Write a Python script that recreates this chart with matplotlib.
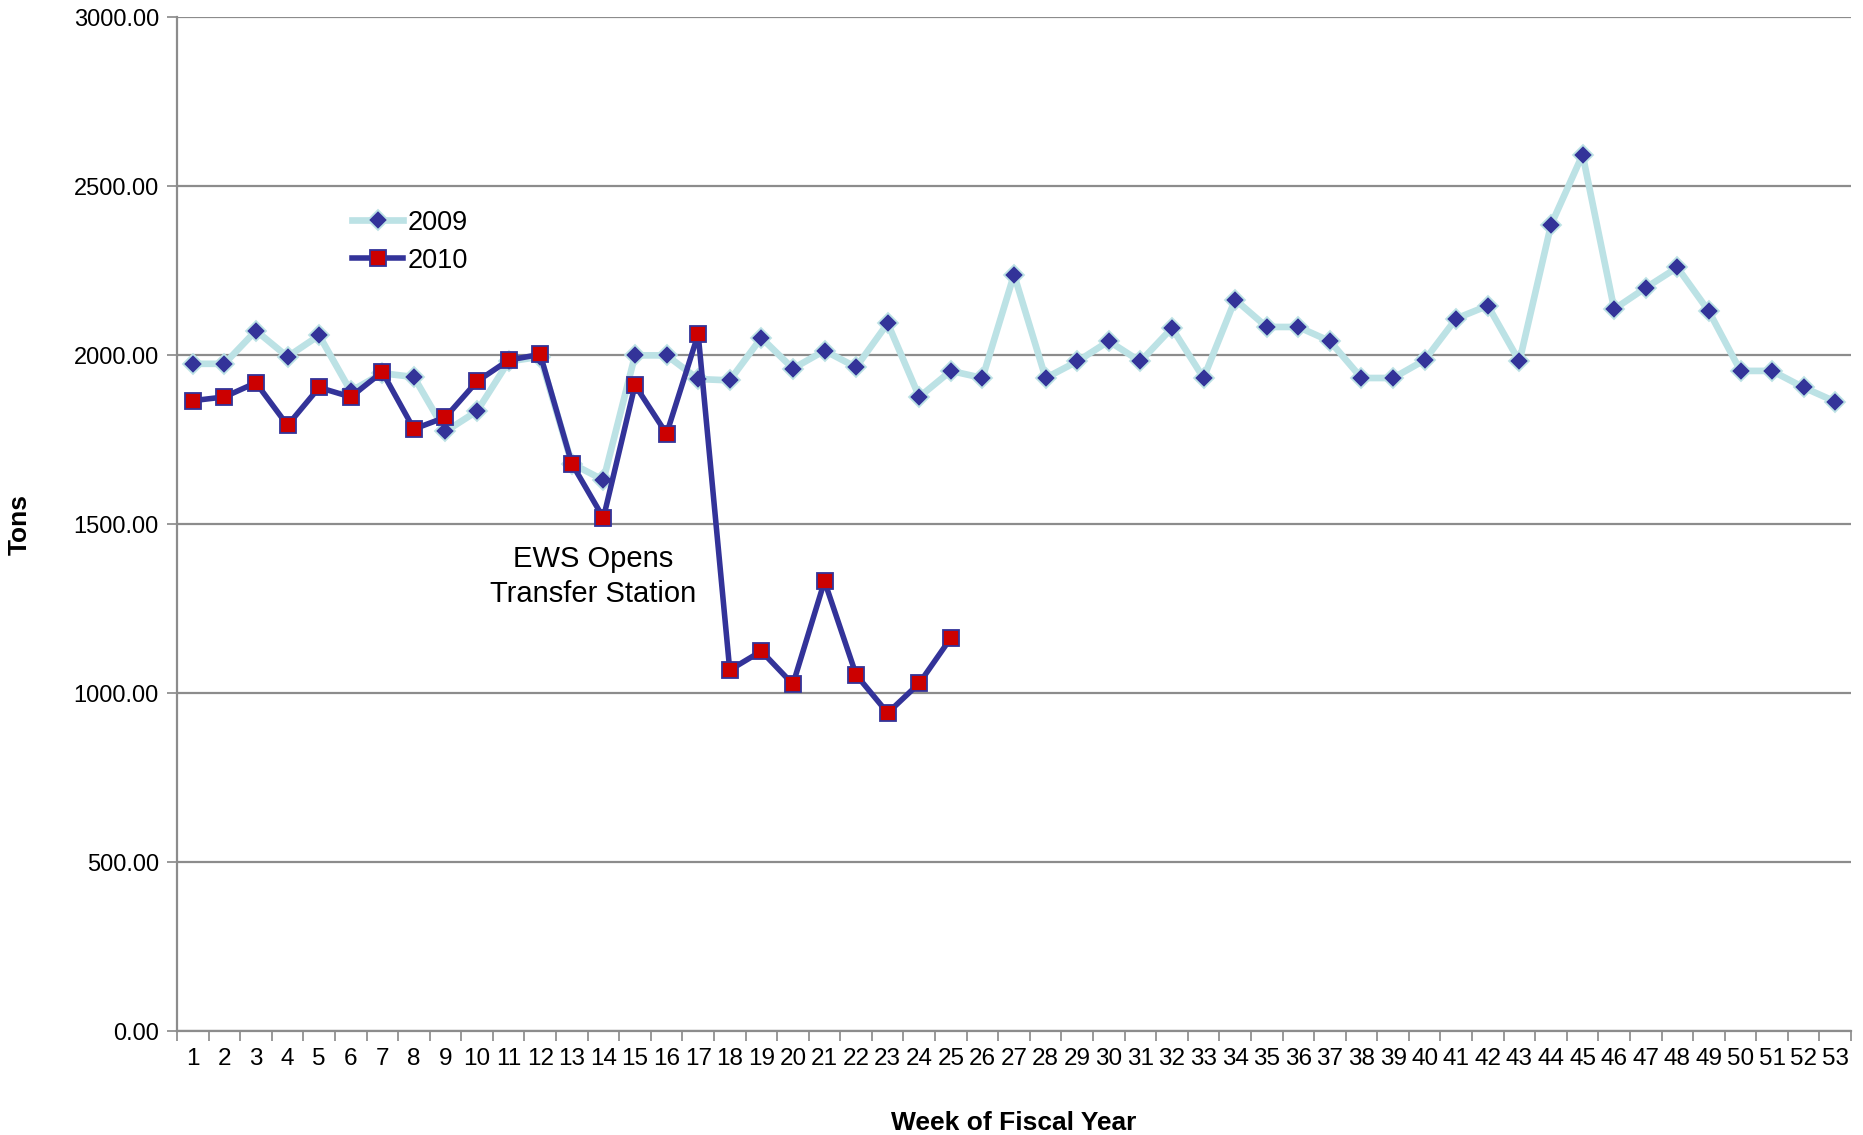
import matplotlib.pyplot as plt
import numpy as np

# tons per week of fiscal year
weeks = list(range(1, 54))
tons_2009 = [1974, 1974, 2072, 1995, 2058, 1893, 1946, 1935, 1774, 1834,
             1981, 1995, 1679, 1630, 1999, 1999, 1929, 1925, 2051, 1960,
             2013, 1964, 2094, 1876, 1953, 1932, 2238, 1932, 1981, 2041,
             1981, 2080, 1932, 2164, 2083, 2083, 2041, 1932, 1932, 1985,
             2108, 2146, 1981, 2385, 2593, 2136, 2199, 2259, 2129, 1953,
             1953, 1904, 1862]
tons_2010 = [1865, 1876, 1918, 1792, 1904, 1876, 1950, 1781, 1816, 1922,
             1985, 2002, 1679, 1518, 1911, 1767, 2062, 1068, 1124, 1026,
             1331, 1054, 941, 1029, 1163]
y_ticks = [0, 500, 1000, 1500, 2000, 2500, 3000]

plt.rcParams['font.family'] = ['Liberation Sans', 'DejaVu Sans']

fig = plt.figure(figsize=(18.63, 11.35), dpi=100)
ax = fig.add_axes([0.095, 0.0916, 0.8986, 0.8934])

ax.plot(weeks, tons_2009, color='#BCE2E5', linewidth=4.8, marker='D',
        markersize=10.5, markerfacecolor='#333399', markeredgecolor='#BCE2E5',
        markeredgewidth=1.3, label='2009', zorder=3)
ax.plot(weeks[:len(tons_2010)], tons_2010, color='#333399', linewidth=4.0,
        marker='s', markersize=11, markerfacecolor='#CC0000',
        markeredgecolor='#333399', markeredgewidth=1.3, label='2010', zorder=4)

ax.set_xlim(0.5, 53.5)
ax.set_ylim(0, 3000)
ax.set_yticks(y_ticks)
ax.set_yticklabels([f'{v:.2f}' for v in y_ticks], fontsize=17)
ax.set_xticks(weeks)
ax.set_xticklabels([str(w) for w in weeks], fontsize=17.5)
ax.set_xticks(np.arange(0.5, 54, 1), minor=True)
ax.tick_params(axis='x', which='major', length=0, pad=12)
ax.tick_params(axis='x', which='minor', length=7, color='#888888', width=1.2)
ax.tick_params(axis='y', length=7, color='#888888', width=1.2, pad=6)

ax.grid(axis='y', color='#8C8C8C', linewidth=1.6)
ax.set_axisbelow(True)
for side in ['top', 'right']:
    ax.spines[side].set_visible(False)
for side in ['left', 'bottom']:
    ax.spines[side].set_color('#8C8C8C')
    ax.spines[side].set_linewidth(1.6)

ax.set_ylabel('Tons', fontsize=19, fontweight='bold', labelpad=30)
ax.set_xlabel('Week of Fiscal Year', fontsize=19, fontweight='bold',
              labelpad=30)

ax.text(13.67, 1345, 'EWS Opens\nTransfer Station', ha='center', va='center',
        fontsize=21, linespacing=1.3)

ax.legend(loc='upper left', bbox_to_anchor=(0.090, 0.834), frameon=False,
          fontsize=19.5, handlelength=1.9, handletextpad=0.15, labelspacing=0.45)

fig.savefig('out.png', dpi=100)
